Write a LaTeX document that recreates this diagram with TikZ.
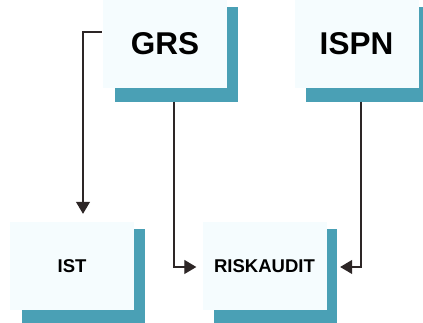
\documentclass[tikz,border=0pt]{standalone}
\usepackage{fontspec}
\setmainfont{Liberation Sans}
\usetikzlibrary{arrows.meta,calc}
\definecolor{barteal}{RGB}{74,160,181}
\definecolor{boxtint}{RGB}{245,252,254}
\definecolor{wire}{RGB}{45,38,38}
\begin{document}
\begin{tikzpicture}[x=1pt,y=1pt,
  unit/.style={fill=boxtint, inner sep=0pt, minimum width=124pt,
    minimum height=88pt, font=\bfseries},
  bigunit/.style={unit, font=\fontsize{31.5}{33}\selectfont\bfseries},
  smallunit/.style={unit, font=\fontsize{18.5}{20}\selectfont\bfseries},
  link/.style={draw=wire, line width=1.3pt,
    -{Triangle[length=12pt,width=14pt]}}]
\useasboundingbox (0,0) rectangle (423,323);

% boxes
\node[bigunit]   (grs)  at (165,279)   {GRS};
\node[bigunit]   (ispn) at (356.5,279) {ISPN};
\node[smallunit] (ist)  at (72,57)     {IST};
\node[smallunit] (risk) at (264.5,57)  {RISKAUDIT};

% teal L-shaped shadow on the right and bottom of every box
\foreach \b in {grs,ispn,ist,risk}{
  \fill[barteal] ($(\b.north east)+(0,-7)$) rectangle ($(\b.south east)+(10.5,-13.5)$);
  \fill[barteal] ($(\b.south west)+(12,0)$) rectangle ($(\b.south east)+(10.5,-13.5)$);
}

% connectors
\draw[link] ($(grs.west)+(-1,12)$) -| ($(ist.north)+(11,8)$);
\draw[link] ($(grs.south)+(9,-13.5)$) |- ($(risk.west)+(-6,-1)$);
\draw[link] ($(ispn.south)+(4.5,-13.5)$) |- ($(risk.east)+(13.5,-1)$);
\end{tikzpicture}
\end{document}
